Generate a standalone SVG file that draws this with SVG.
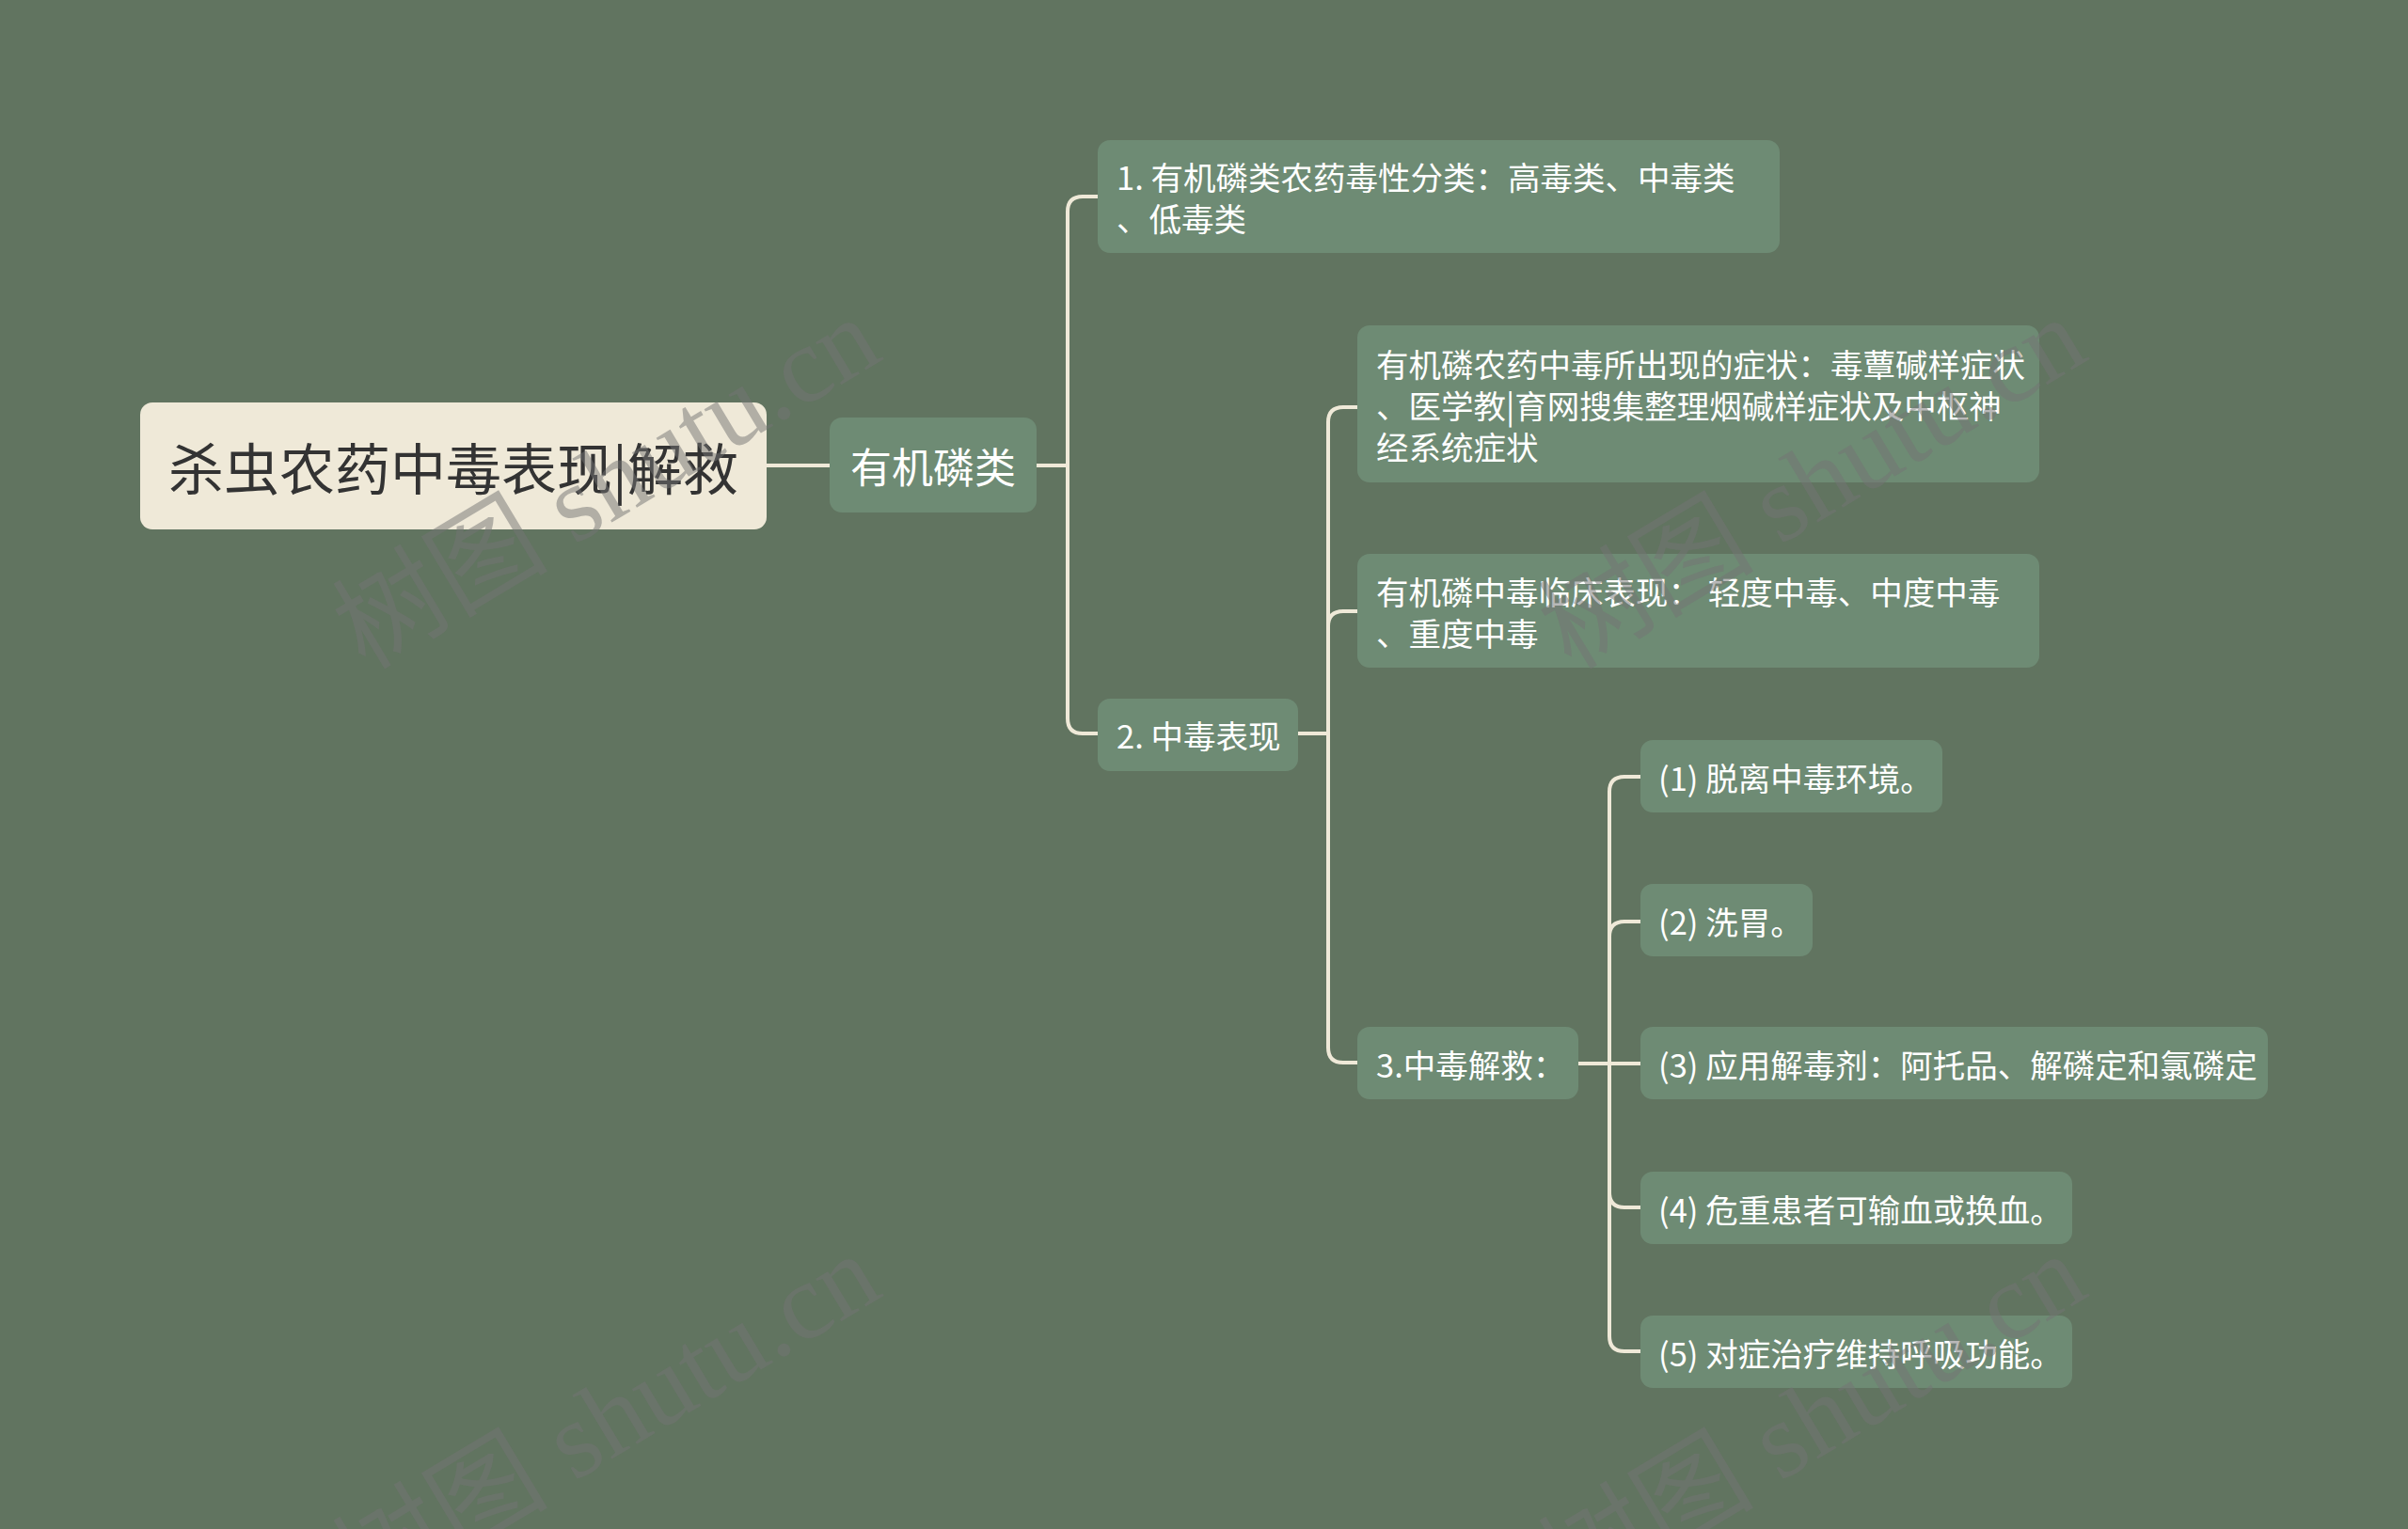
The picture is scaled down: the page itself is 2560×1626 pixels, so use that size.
<svg xmlns="http://www.w3.org/2000/svg" width="2560" height="1626" viewBox="0 0 2560 1626">
<style>
.bg{fill:#617460}
.node{fill:#6e8b74}
.root{fill:#efe9d8}
.t{font-family:"Noto Sans CJK SC","Noto Sans",sans-serif;fill:#ffffff;font-size:34.5px;dominant-baseline:central}
.rt{font-family:"Noto Sans CJK SC","Noto Sans",sans-serif;fill:#333333;font-size:59px;dominant-baseline:central;text-anchor:middle}
.mt{font-family:"Noto Sans CJK SC","Noto Sans",sans-serif;fill:#ffffff;font-size:44px;dominant-baseline:central;text-anchor:middle}
.c{fill:none;stroke:#efe9d8;stroke-width:4;stroke-linecap:round}
.wm{font-family:"Liberation Serif","Noto Sans CJK SC",serif;font-size:115px;fill:#747474;opacity:0.5;text-anchor:middle;dominant-baseline:central}
</style>
<rect class="bg" x="0" y="0" width="2560" height="1626"/>
<g id="connectors">
<path class="c" d="M815,495 H882"/>
<path class="c" d="M1102,495 H1135"/>
<path class="c" d="M1135,495 V225 Q1135,209 1151,209 H1167"/>
<path class="c" d="M1135,495 V764 Q1135,780 1151,780 H1167"/>
<path class="c" d="M1380,780 H1412"/>
<path class="c" d="M1412,780 V449 Q1412,433 1428,433 H1443"/>
<path class="c" d="M1412,780 V666 Q1412,650 1428,650 H1443"/>
<path class="c" d="M1412,780 V1114 Q1412,1130 1428,1130 H1443"/>
<path class="c" d="M1678,1131 H1711"/>
<path class="c" d="M1711,1131 V842 Q1711,826 1727,826 H1744"/>
<path class="c" d="M1711,1131 V996 Q1711,980 1727,980 H1744"/>
<path class="c" d="M1711,1131 H1744"/>
<path class="c" d="M1711,1131 V1268 Q1711,1284 1727,1284 H1744"/>
<path class="c" d="M1711,1131 V1421 Q1711,1437 1727,1437 H1744"/>
</g>
<g id="root">
<rect class="root" x="149" y="428" width="666" height="135" rx="13"/>
<text class="rt" x="482" y="495">杀虫农药中毒表现|解救</text>
</g>
<g id="n-organophosphorus">
<rect class="node" x="882" y="444" width="220" height="101" rx="13"/>
<text class="mt" x="992" y="495">有机磷类</text>
</g>
<g id="n1">
<rect class="node" x="1167" y="149" width="725" height="120" rx="13"/>
<text class="t" x="1187" y="187">1. 有机磷类农药毒性分类：高毒类、中毒类</text>
<text class="t" x="1187" y="231">、低毒类</text>
</g>
<g id="n2">
<rect class="node" x="1167" y="743" width="213" height="77" rx="13"/>
<text class="t" x="1187" y="781">2. 中毒表现</text>
</g>
<g id="n2a">
<rect class="node" x="1443" y="346" width="725" height="167" rx="13"/>
<text class="t" x="1463" y="386">有机磷农药中毒所出现的症状：毒蕈碱样症状</text>
<text class="t" x="1463" y="430">、医学教|育网搜集整理烟碱样症状及中枢神</text>
<text class="t" x="1463" y="474">经系统症状</text>
</g>
<g id="n2b">
<rect class="node" x="1443" y="589" width="725" height="121" rx="13"/>
<text class="t" x="1463" y="628">有机磷中毒临床表现：  轻度中毒、中度中毒</text>
<text class="t" x="1463" y="672">、重度中毒</text>
</g>
<g id="n2c">
<rect class="node" x="1443" y="1092" width="235" height="77" rx="13"/>
<text class="t" x="1463" y="1131">3.中毒解救：</text>
</g>
<g id="s1">
<rect class="node" x="1744" y="787" width="321" height="77" rx="13"/>
<text class="t" x="1763" y="826">(1) 脱离中毒环境。</text>
</g>
<g id="s2">
<rect class="node" x="1744" y="940" width="183" height="77" rx="13"/>
<text class="t" x="1763" y="979">(2) 洗胃。</text>
</g>
<g id="s3">
<rect class="node" x="1744" y="1092" width="667" height="77" rx="13"/>
<text class="t" x="1763" y="1131">(3) 应用解毒剂：阿托品、解磷定和氯磷定</text>
</g>
<g id="s4">
<rect class="node" x="1744" y="1246" width="459" height="77" rx="13"/>
<text class="t" x="1763" y="1285">(4) 危重患者可输血或换血。</text>
</g>
<g id="s5">
<rect class="node" x="1744" y="1399" width="459" height="77" rx="13"/>
<text class="t" x="1763" y="1438">(5) 对症治疗维持呼吸功能。</text>
</g>
<g id="watermarks">
<text class="wm" x="645" y="514" transform="rotate(-31 645 514)">树图 shutu.cn</text>
<text class="wm" x="1927" y="514" transform="rotate(-31 1927 514)">树图 shutu.cn</text>
<text class="wm" x="645" y="1510" transform="rotate(-31 645 1510)">树图 shutu.cn</text>
<text class="wm" x="1927" y="1510" transform="rotate(-31 1927 1510)">树图 shutu.cn</text>
</g>
</svg>
